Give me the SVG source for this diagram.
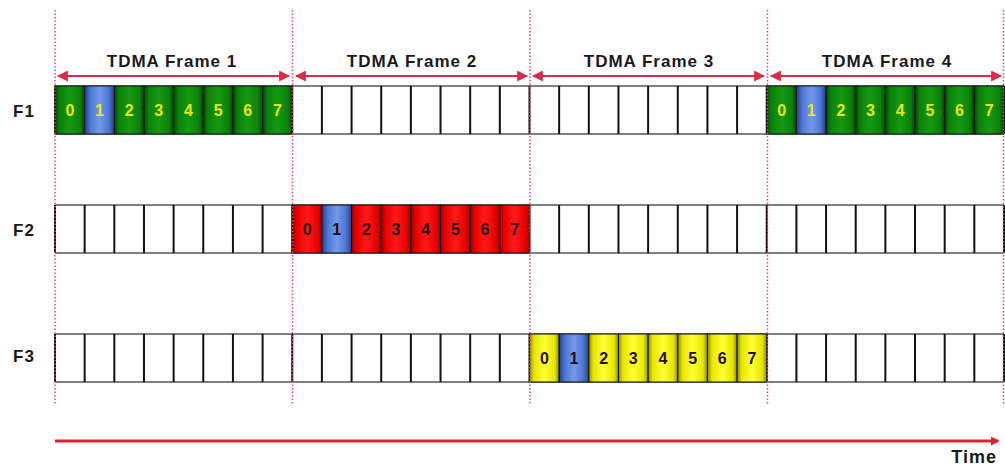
<svg xmlns="http://www.w3.org/2000/svg" xmlns:xlink="http://www.w3.org/1999/xlink" width="1005" height="468" viewBox="0 0 1005 468">
<style>
.lbl{font-family:"Liberation Sans",Arial,sans-serif;font-weight:bold;font-size:17px;fill:#1a1a1a;letter-spacing:1px}
.row{font-family:"Liberation Sans",Arial,sans-serif;font-weight:bold;font-size:17px;fill:#1a1a1a;letter-spacing:1px}
.dg{font-family:"Liberation Sans",Arial,sans-serif;font-weight:bold;font-size:16px;text-anchor:middle}
.dy{fill:#e6e61a}
.dk{fill:#2a1010}
.guide{stroke:#e04a6a;stroke-width:1.5;stroke-dasharray:1.5 2;fill:none}
.farrow{stroke:#dd2a48;stroke-width:2;fill:none;marker-start:url(#ah);marker-end:url(#ah)}
.bg{fill:#ffffff;stroke:none}
.rim{stroke:#808080;stroke-width:2;fill:none}
.sep{stroke:#111;stroke-width:2;fill:none}
.cell{stroke:#111;stroke-width:1}
</style>
<defs>
<marker id="ah" viewBox="0 0 10 10" refX="9" refY="5" markerWidth="5.5" markerHeight="5.5" orient="auto-start-reverse" markerUnits="strokeWidth">
<path d="M0 0L10 5L0 10z" fill="#dd2a48"/>
</marker>
<marker id="ta" viewBox="0 0 10 10" refX="8" refY="5" markerWidth="3" markerHeight="3" orient="auto" markerUnits="strokeWidth">
<path d="M0 0L10 5L0 10z" fill="#e0202e"/>
</marker>
<linearGradient id="gG" x1="0" x2="1" y1="0" y2="0">
<stop offset="0" stop-color="#034503"/><stop offset="0.15" stop-color="#0b800b"/><stop offset="0.5" stop-color="#149a10"/><stop offset="0.85" stop-color="#0b800b"/><stop offset="1" stop-color="#034503"/>
</linearGradient>
<linearGradient id="gB" x1="0" x2="1" y1="0" y2="0">
<stop offset="0" stop-color="#23408f"/><stop offset="0.2" stop-color="#4f78d6"/><stop offset="0.5" stop-color="#7398ea"/><stop offset="0.8" stop-color="#4f78d6"/><stop offset="1" stop-color="#23408f"/>
</linearGradient>
<linearGradient id="gR" x1="0" x2="1" y1="0" y2="0">
<stop offset="0" stop-color="#9a0000"/><stop offset="0.15" stop-color="#e80000"/><stop offset="0.5" stop-color="#ff1a1a"/><stop offset="0.85" stop-color="#e80000"/><stop offset="1" stop-color="#9a0000"/>
</linearGradient>
<linearGradient id="gY" x1="0" x2="1" y1="0" y2="0">
<stop offset="0" stop-color="#8a8a00"/><stop offset="0.15" stop-color="#e6e600"/><stop offset="0.5" stop-color="#ffff33"/><stop offset="0.85" stop-color="#e6e600"/><stop offset="1" stop-color="#8a8a00"/>
</linearGradient>
<rect id="c" width="29.66" height="48"/>
<path id="seps" d="M55 0v48m29.656 -48v48m29.656 -48v48m29.656 -48v48m29.656 -48v48m29.656 -48v48m29.656 -48v48m29.656 -48v48m29.656 -48v48m29.656 -48v48m29.656 -48v48m29.656 -48v48m29.656 -48v48m29.656 -48v48m29.656 -48v48m29.656 -48v48m29.656 -48v48m29.656 -48v48m29.656 -48v48m29.656 -48v48m29.656 -48v48m29.656 -48v48m29.656 -48v48m29.656 -48v48m29.656 -48v48m29.656 -48v48m29.656 -48v48m29.656 -48v48m29.656 -48v48m29.656 -48v48m29.656 -48v48m29.656 -48v48m29.656 -48v48"/>
</defs>
<rect width="1005" height="468" fill="#ffffff"/>

<g id="frame-labels">
<text class="lbl" x="172" y="67" text-anchor="middle">TDMA Frame 1</text>
<text class="lbl" x="412" y="67" text-anchor="middle">TDMA Frame 2</text>
<text class="lbl" x="649" y="67" text-anchor="middle">TDMA Frame 3</text>
<text class="lbl" x="887" y="67" text-anchor="middle">TDMA Frame 4</text>
</g>

<g id="row-labels">
<text class="row" x="13" y="117">F1</text>
<text class="row" x="13" y="236">F2</text>
<text class="row" x="13" y="362">F3</text>
</g>

<g id="row-F1">
<rect class="bg" x="55" y="86" width="949" height="48"/>
<path class="rim" d="M55 86H1004M55 134H1004"/>
<use xlink:href="#seps" href="#seps" class="sep" y="86"/>
<g id="F1-frame1">
<use href="#c" xlink:href="#c" class="cell" x="55" y="86" fill="url(#gG)"/>
<use href="#c" xlink:href="#c" class="cell" x="84.66" y="86" fill="url(#gB)"/>
<use href="#c" xlink:href="#c" class="cell" x="114.31" y="86" fill="url(#gG)"/>
<use href="#c" xlink:href="#c" class="cell" x="143.97" y="86" fill="url(#gG)"/>
<use href="#c" xlink:href="#c" class="cell" x="173.63" y="86" fill="url(#gG)"/>
<use href="#c" xlink:href="#c" class="cell" x="203.28" y="86" fill="url(#gG)"/>
<use href="#c" xlink:href="#c" class="cell" x="232.94" y="86" fill="url(#gG)"/>
<use href="#c" xlink:href="#c" class="cell" x="262.59" y="86" fill="url(#gG)"/>
<text class="dg dy" x="69.83" y="116">0</text>
<text class="dg dy" x="99.49" y="116">1</text>
<text class="dg dy" x="129.14" y="116">2</text>
<text class="dg dy" x="158.8" y="116">3</text>
<text class="dg dy" x="188.46" y="116">4</text>
<text class="dg dy" x="218.11" y="116">5</text>
<text class="dg dy" x="247.77" y="116">6</text>
<text class="dg dy" x="277.42" y="116">7</text>
</g>
<g id="F1-frame4">
<use href="#c" xlink:href="#c" class="cell" x="766.75" y="86" fill="url(#gG)"/>
<use href="#c" xlink:href="#c" class="cell" x="796.41" y="86" fill="url(#gB)"/>
<use href="#c" xlink:href="#c" class="cell" x="826.06" y="86" fill="url(#gG)"/>
<use href="#c" xlink:href="#c" class="cell" x="855.72" y="86" fill="url(#gG)"/>
<use href="#c" xlink:href="#c" class="cell" x="885.38" y="86" fill="url(#gG)"/>
<use href="#c" xlink:href="#c" class="cell" x="915.03" y="86" fill="url(#gG)"/>
<use href="#c" xlink:href="#c" class="cell" x="944.69" y="86" fill="url(#gG)"/>
<use href="#c" xlink:href="#c" class="cell" x="974.34" y="86" fill="url(#gG)"/>
<text class="dg dy" x="781.58" y="116">0</text>
<text class="dg dy" x="811.24" y="116">1</text>
<text class="dg dy" x="840.89" y="116">2</text>
<text class="dg dy" x="870.55" y="116">3</text>
<text class="dg dy" x="900.21" y="116">4</text>
<text class="dg dy" x="929.86" y="116">5</text>
<text class="dg dy" x="959.52" y="116">6</text>
<text class="dg dy" x="989.17" y="116">7</text>
</g>
</g>

<g id="row-F2">
<rect class="bg" x="55" y="205" width="949" height="48"/>
<path class="rim" d="M55 205H1004M55 253H1004"/>
<use xlink:href="#seps" href="#seps" class="sep" y="205"/>
<g id="F2-frame2">
<use href="#c" xlink:href="#c" class="cell" x="292.25" y="205" fill="url(#gR)"/>
<use href="#c" xlink:href="#c" class="cell" x="321.91" y="205" fill="url(#gB)"/>
<use href="#c" xlink:href="#c" class="cell" x="351.56" y="205" fill="url(#gR)"/>
<use href="#c" xlink:href="#c" class="cell" x="381.22" y="205" fill="url(#gR)"/>
<use href="#c" xlink:href="#c" class="cell" x="410.88" y="205" fill="url(#gR)"/>
<use href="#c" xlink:href="#c" class="cell" x="440.53" y="205" fill="url(#gR)"/>
<use href="#c" xlink:href="#c" class="cell" x="470.19" y="205" fill="url(#gR)"/>
<use href="#c" xlink:href="#c" class="cell" x="499.84" y="205" fill="url(#gR)"/>
<text class="dg dk" x="307.08" y="235">0</text>
<text class="dg dk" x="336.74" y="235">1</text>
<text class="dg dk" x="366.39" y="235">2</text>
<text class="dg dk" x="396.05" y="235">3</text>
<text class="dg dk" x="425.71" y="235">4</text>
<text class="dg dk" x="455.36" y="235">5</text>
<text class="dg dk" x="485.02" y="235">6</text>
<text class="dg dk" x="514.67" y="235">7</text>
</g>
</g>

<g id="row-F3">
<rect class="bg" x="55" y="334" width="949" height="48"/>
<path class="rim" d="M55 334H1004M55 382H1004"/>
<use xlink:href="#seps" href="#seps" class="sep" y="334"/>
<g id="F3-frame3">
<use href="#c" xlink:href="#c" class="cell" x="529.5" y="334" fill="url(#gY)"/>
<use href="#c" xlink:href="#c" class="cell" x="559.16" y="334" fill="url(#gB)"/>
<use href="#c" xlink:href="#c" class="cell" x="588.81" y="334" fill="url(#gY)"/>
<use href="#c" xlink:href="#c" class="cell" x="618.47" y="334" fill="url(#gY)"/>
<use href="#c" xlink:href="#c" class="cell" x="648.13" y="334" fill="url(#gY)"/>
<use href="#c" xlink:href="#c" class="cell" x="677.78" y="334" fill="url(#gY)"/>
<use href="#c" xlink:href="#c" class="cell" x="707.44" y="334" fill="url(#gY)"/>
<use href="#c" xlink:href="#c" class="cell" x="737.09" y="334" fill="url(#gY)"/>
<text class="dg dk" x="544.33" y="364">0</text>
<text class="dg dk" x="573.99" y="364">1</text>
<text class="dg dk" x="603.64" y="364">2</text>
<text class="dg dk" x="633.3" y="364">3</text>
<text class="dg dk" x="662.96" y="364">4</text>
<text class="dg dk" x="692.61" y="364">5</text>
<text class="dg dk" x="722.27" y="364">6</text>
<text class="dg dk" x="751.92" y="364">7</text>
</g>
</g>

<g id="connectors">
<path class="guide" d="M55 10V404M292.5 10V404M530 10V404M767.5 10V404M1003.5 10V404"/>
<path class="farrow" d="M58 76H289"/>
<path class="farrow" d="M296 76H527"/>
<path class="farrow" d="M533 76H764"/>
<path class="farrow" d="M771 76H1001"/>
<path d="M55 441H998" stroke="#e0202e" stroke-width="3" fill="none" marker-end="url(#ta)"/>
</g>

<g id="time-label">
<text x="997" y="463" text-anchor="end" style="font-family:'Liberation Sans',Arial,sans-serif;font-weight:bold;font-size:18px;fill:#1a1a1a;letter-spacing:1px">Time</text>
</g>
</svg>
